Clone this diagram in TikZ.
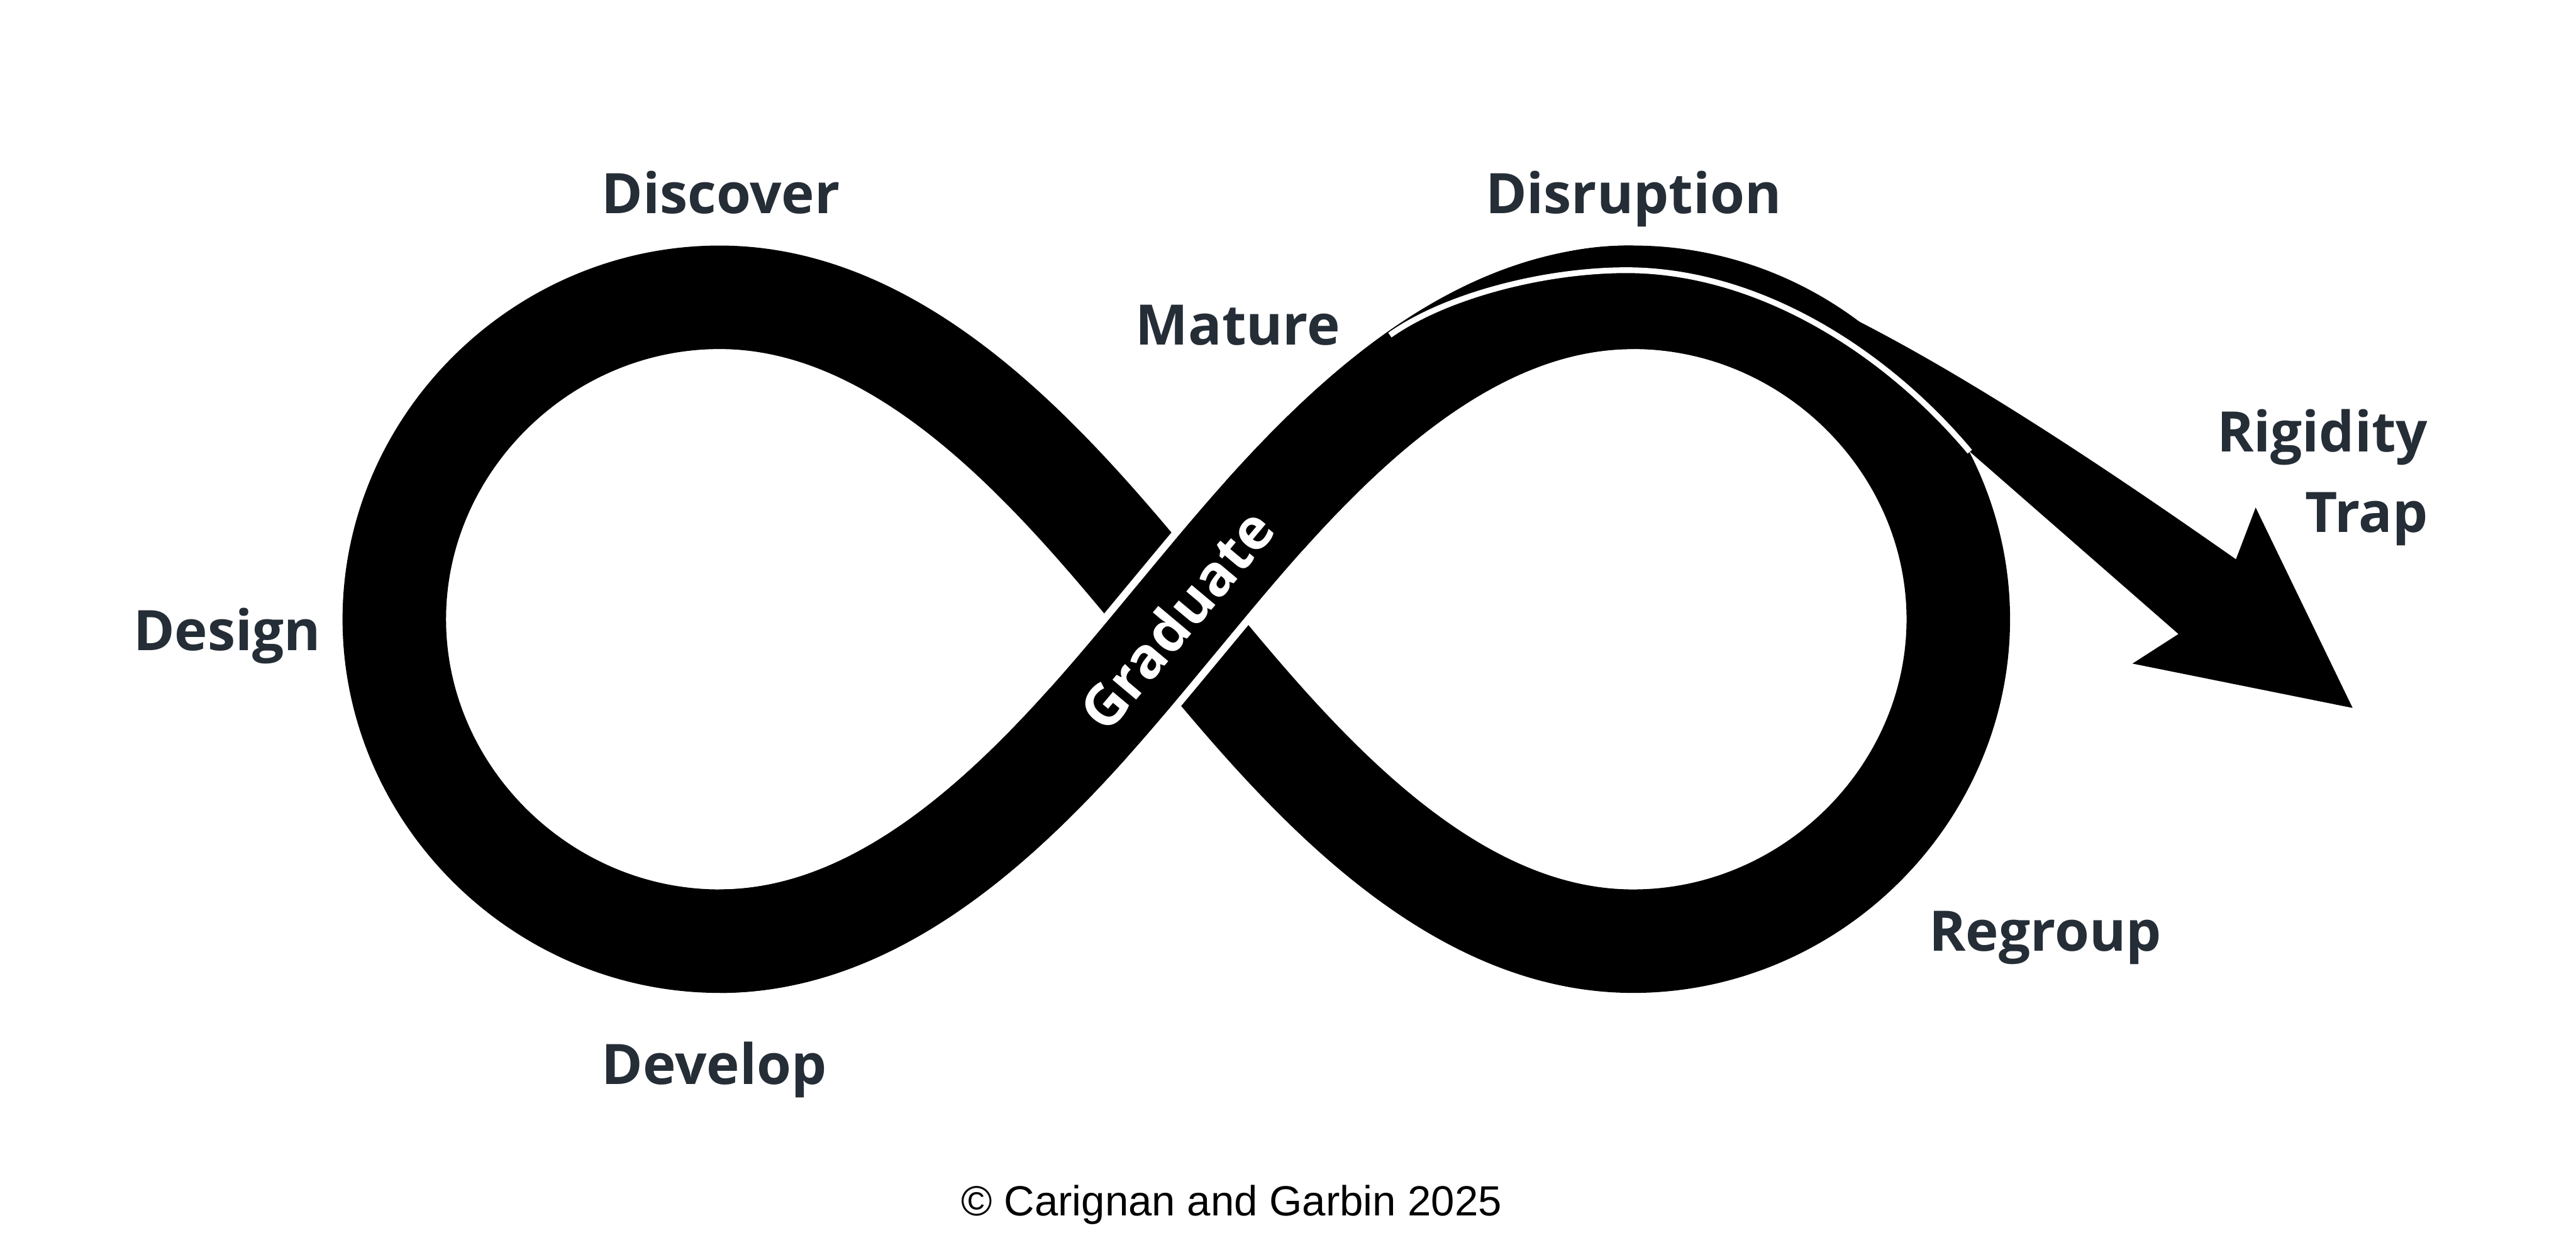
\documentclass[tikz,border=0pt]{standalone}
\usepackage{fontspec}
\setmainfont{Open Sans}
\newfontfamily\copyfont{Liberation Sans}
\definecolor{labelink}{RGB}{37,45,54}
\begin{document}
\begin{tikzpicture}[x=1pt,y=-1pt,
  lbl/.style={font=\fontsize{34}{40}\selectfont\bfseries, text=labelink, inner sep=0pt},
  band/.style={line width=63pt, draw=black, line join=round},
  gapline/.style={line width=72pt, draw=white}]
\useasboundingbox (0,0) rectangle (1568,761);
\fill[white] (0,0) rectangle (1568,761);

% infinity loop centre line
\coordinate (X) at (716,377);
\coordinate (bl) at (438,573);
\coordinate (tr) at (994,181);
\draw[band] (X) .. controls (652,300) and (558,181) .. (438,181)
  .. controls (330,181) and (240,270) .. (240,377)
  .. controls (240,484) and (330,573) .. (bl)
  .. controls (558,573) and (652,454) .. (X)
  .. controls (780,300) and (874,181) .. (tr)
  .. controls (1102,181) and (1192,270) .. (1192,377)
  .. controls (1192,484) and (1102,573) .. (994,573)
  .. controls (874,573) and (780,454) .. (X) -- cycle;

% over strand at the crossing: white gap, then the band again
\coordinate (ovA) at (662.44,440.11);
\coordinate (ovB) at (769.56,313.89);
\draw[gapline] (ovA) .. controls (682.125,418.125) and (700,396.25) .. (X)
  .. controls (732,357.75) and (749.875,335.875) .. (ovB);
\draw[band] (bl) .. controls (558,573) and (652,454) .. (X)
  .. controls (780,300) and (874,181) .. (tr);

% disruption arrow
\coordinate (start) at (846,204);
\coordinate (apexO) at (990,149.5);
\coordinate (apexI) at (990,164.5);
\coordinate (split) at (1199,275);
\coordinate (notchU) at (1361,340.5);
\coordinate (barbU) at (1373,309);
\coordinate (tip) at (1432,431);
\coordinate (barbL) at (1298,404);
\coordinate (notchL) at (1326,386);
\fill[black] (start) .. controls (890,172) and (940,149.5) .. (apexO)
  .. controls (1080,149.5) and (1238.1,254.4) .. (notchU)
  -- (barbU) -- (tip) -- (barbL) -- (notchL) -- (split)
  .. controls (1147.6,213.7) and (1070,164.5) .. (apexI)
  .. controls (940,164.5) and (880,180) .. (start) -- cycle;
\draw[white, line width=3.5pt] (split)
  .. controls (1147.6,213.7) and (1070,164.5) .. (apexI)
  .. controls (940,164.5) and (880,180) .. (start);

\node[font=\fontsize{34.5}{40}\selectfont\bfseries, text=white, rotate=50, inner sep=0pt] (grad) at (X) {Graduate};

\node[lbl, anchor=base west] (discover) at (366,130) {Discover};
\node[lbl, anchor=base west] (disruption) at (904,130) {Disruption};
\node[lbl, anchor=base west] (mature) at (691,210) {Mature};
\node[lbl, anchor=base west] (design) at (81,396) {Design};
\node[lbl, anchor=base west] (develop) at (366,660) {Develop};
\node[lbl, anchor=base west] (regroup) at (1174,579) {Regroup};
\node[lbl, anchor=base east] (rigidity) at (1478,275) {Rigidity};
\node[lbl, anchor=base east] (trap) at (1478,324) {Trap};
\node[font=\copyfont\fontsize{25.7}{30}\selectfont, text=black, anchor=base west, inner sep=0pt] (copy) at (585,740) {© Carignan and Garbin 2025};
\end{tikzpicture}
\end{document}
